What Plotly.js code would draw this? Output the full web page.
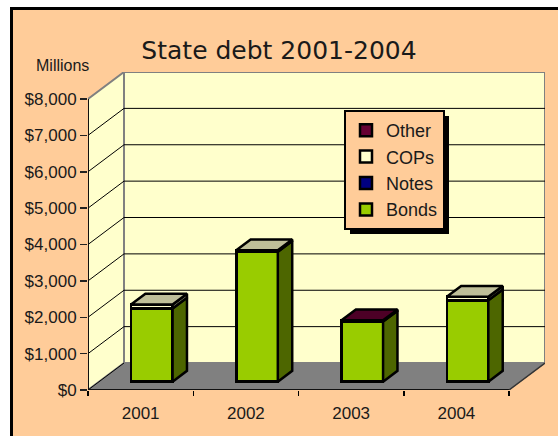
<!DOCTYPE html>
<html>
<head>
<meta charset="utf-8">
<script src="https://cdn.plot.ly/plotly-3.0.1.min.js"></script>
<style>html,body{margin:0;padding:0;background:#fff}#chart{width:558px;height:436px}</style>
</head>
<body>
<div id="chart"></div>
<script>
// ---- data ----
const years = ['2001', '2002', '2003', '2004'];
const bonds = [2010, 3570, 1650, 2235];
const notes = [0, 0, 0, 0];
const cops  = [110, 40, 0, 100];
const other = [0, 0, 35, 0];
const yTicks = [0, 1000, 2000, 3000, 4000, 5000, 6000, 7000, 8000];
const yTickText = yTicks.map(v => '$' + v.toLocaleString('en-US'));

// ---- geometry / style ----
const W = 558, H = 436;
const FL = 88, FR = 509, FB = 390, FT = 99;   // front plane in px
const DPX = 36, DPY = 27;                       // full depth offset in px
const yMax = yTicks[yTicks.length - 1];
const nCat = years.length;
const pxCat = (FR - FL) / nCat, pxVal = (FB - FT) / yMax;
const DXc = DPX / pxCat, DYv = DPY / pxVal;
const f0 = 0.31, bd = 0.40, bw = 0.395;
const FONT = '"Liberation Sans", Arial, sans-serif';

function shade(hex, k) {
  const n = parseInt(hex.slice(1), 16);
  const r = Math.round(((n >> 16) & 255) * k), g = Math.round(((n >> 8) & 255) * k), b = Math.round((n & 255) * k);
  return 'rgb(' + r + ',' + g + ',' + b + ')';
}

const series = [
  {name: 'Bonds', y: bonds, color: '#99CC00'},
  {name: 'Notes', y: notes, color: '#000080'},
  {name: 'COPs',  y: cops,  color: '#FFFFCC'},
  {name: 'Other', y: other, color: '#660033'}
];

const traces = [];
series.forEach(s => {
  traces.push({
    type: 'bar', name: s.name, x: years.map((_, i) => i), y: s.y,
    xaxis: 'x2', yaxis: 'y2', width: bw, legendgroup: s.name,
    marker: {color: s.color, line: {color: '#000', width: 2.5}},
    hoverinfo: 'skip'
  });
});

// side and top faces from the stacked values
const sdx = bd * DXc, sdy = bd * DYv;
const cum = years.map(() => 0);
const topInfo = years.map(() => null);
series.forEach(s => {
  const xs = [], ys = [];
  s.y.forEach((v, i) => {
    const b = cum[i], t = b + v;
    if (v > 0) {
      const xr = i + bw / 2;
      xs.push(xr, xr + sdx, xr + sdx, xr, xr, null);
      ys.push(b, b + sdy, t + sdy, t, b, null);
      topInfo[i] = {t: t, color: s.color};
    }
    cum[i] = t;
  });
  if (xs.length) {
    traces.push({type: 'scatter', mode: 'lines', x: xs, y: ys, xaxis: 'x2', yaxis: 'y2',
      fill: 'toself', fillcolor: shade(s.color, 0.5), line: {color: '#000', width: 2.5},
      showlegend: false, hoverinfo: 'skip'});
  }
});
topInfo.forEach((ti, i) => {
  if (!ti) return;
  const xl = i - bw / 2, xr = i + bw / 2, t = ti.t;
  traces.push({type: 'scatter', mode: 'lines',
    x: [xl, xr, xr + sdx, xl + sdx, xl], y: [t, t, t + sdy, t + sdy, t],
    xaxis: 'x2', yaxis: 'y2', fill: 'toself', fillcolor: shade(ti.color, 0.75),
    line: {color: '#000', width: 2.5}, showlegend: false, hoverinfo: 'skip'});
});

// ---- frame + 3D box shapes ----
const shapes = [];
shapes.push({type: 'rect', xref: 'paper', yref: 'paper', x0: 0, x1: 10 / W, y0: 0, y1: 1,
  fillcolor: '#fff', line: {width: 0}, layer: 'below'});
shapes.push({type: 'rect', xref: 'paper', yref: 'paper', x0: 0, x1: 1, y0: 1 - 7 / H, y1: 1,
  fillcolor: '#fff', line: {width: 0}, layer: 'below'});
shapes.push({type: 'line', xref: 'paper', yref: 'paper', x0: 11.5 / W, x1: 11.5 / W, y0: 0, y1: 1 - 7 / H,
  line: {color: '#000', width: 3}, layer: 'below'});
shapes.push({type: 'line', xref: 'paper', yref: 'paper', x0: 10 / W, x1: 1, y0: 1 - 8.5 / H, y1: 1 - 8.5 / H,
  line: {color: '#000', width: 3}, layer: 'below'});
const xA = -0.5, xB = nCat - 0.5;
shapes.push({type: 'rect', xref: 'x', yref: 'y', x0: xA + DXc, x1: xB + DXc, y0: DYv, y1: yMax + DYv,
  fillcolor: '#FFFFCC', line: {color: '#808080', width: 2}, layer: 'below'});
shapes.push({type: 'path', xref: 'x', yref: 'y',
  path: `M${xA},0 L${xA + DXc},${DYv} L${xA + DXc},${yMax + DYv} L${xA},${yMax} Z`,
  fillcolor: '#FFFFCC', line: {color: '#808080', width: 2}, layer: 'below'});
shapes.push({type: 'path', xref: 'x', yref: 'y',
  path: `M${xA},0 L${xB},0 L${xB + DXc},${DYv} L${xA + DXc},${DYv} Z`,
  fillcolor: '#808080', line: {color: '#808080', width: 1}, layer: 'below'});
function seg(x0, y0, x1, y1, color, width) {
  return {type: 'line', xref: 'x', yref: 'y', x0, y0, x1, y1, line: {color, width}, layer: 'below'};
}
yTicks.forEach(v => {
  if (v < yMax) {
    if (v > 0) shapes.push(seg(xA + DXc, v + DYv, xB + DXc, v + DYv, '#000', 1));
    shapes.push(seg(xA, v, xA + DXc, v + DYv, '#000', 1));
  }
});
shapes.push(seg(xA, 0, xA, yMax, '#111', 2));
shapes.push(seg(xA, 0, xB, 0, '#111', 2));
shapes.push(seg(xB, 0, xB + DXc, DYv, '#333', 1.5));
// legend shadow (resized to the legend box after drawing)
const shadowIndex = shapes.length;
shapes.push({type: 'rect', xref: 'paper', yref: 'paper', x0: 349 / W, x1: 449 / W, y0: 1 - 230 / H, y1: 1 - 119 / H,
  fillcolor: '#000', line: {width: 0}, layer: 'above'});

const tickFont = {family: FONT, size: 17, color: '#1a1a1a'};
const layout = {
  width: W, height: H, autosize: false,
  margin: {l: 0, r: 0, t: 0, b: 0, pad: 0},
  paper_bgcolor: '#FFCC99', plot_bgcolor: 'rgba(0,0,0,0)',
  barmode: 'stack', showlegend: true,
  title: {text: 'State debt 2001-2004', font: {family: '"DejaVu Sans", Verdana, sans-serif', size: 25, color: '#1a1a1a'},
    x: 0.5, xanchor: 'center', xref: 'paper', y: 1 - 50 / H, yanchor: 'middle', yref: 'container'},
  xaxis: {domain: [FL / W, (FR + DPX) / W], range: [xA, xB + DXc], fixedrange: true,
    tickmode: 'array', tickvals: years.map((_, i) => i), ticktext: years,
    ticks: 'outside', ticklen: 8, tickcolor: 'rgba(0,0,0,0)', tickfont: tickFont,
    minor: {tickmode: 'array', tickvals: years.map((_, i) => i - 0.5).concat([xB]), ticks: 'outside', ticklen: 5, tickwidth: 1.5, tickcolor: '#000', showgrid: false},
    showgrid: false, zeroline: false, showline: false},
  yaxis: {domain: [1 - FB / H, 1 - (FT - DPY) / H], range: [0, yMax + DYv], fixedrange: true,
    tickmode: 'array', tickvals: yTicks, ticktext: yTickText,
    ticks: 'outside', ticklen: 7, tickwidth: 1.5, tickcolor: '#222', tickfont: tickFont,
    showgrid: false, zeroline: false, showline: false},
  xaxis2: {overlaying: 'x', anchor: 'y2', domain: [FL / W, (FR + DPX) / W],
    range: [xA - f0 * DXc, xB + DXc - f0 * DXc], visible: false, fixedrange: true},
  yaxis2: {overlaying: 'y', anchor: 'x2', domain: [1 - FB / H, 1 - (FT - DPY) / H],
    range: [-f0 * DYv, yMax + DYv - f0 * DYv], visible: false, fixedrange: true},
  legend: {x: 344 / W, y: 1 - 110 / H, xanchor: 'left', yanchor: 'top', xref: 'paper', yref: 'paper',
    bgcolor: '#FFCC99', bordercolor: '#000', borderwidth: 2, traceorder: 'reversed',
    tracegroupgap: 4, font: {family: FONT, size: 18, color: '#1a1a1a'}},
  annotations: [{text: 'Millions', xref: 'paper', yref: 'paper', x: 34 / W, y: 1 - 66 / H,
    xanchor: 'left', yanchor: 'middle', showarrow: false, font: {family: FONT, size: 16, color: '#1a1a1a'}}],
  shapes: shapes
};
Plotly.newPlot('chart', traces, layout, {staticPlot: true, displayModeBar: false}).then(gd => {
  const bg = gd.querySelector('.legend .bg');
  if (!bg) return;
  const r = bg.getBoundingClientRect(), c = gd.getBoundingClientRect();
  const x0 = r.left - c.left + 5, x1 = r.right - c.left + 5;
  const y0 = r.top - c.top + 5, y1 = r.bottom - c.top + 5;
  const upd = {};
  upd['shapes[' + shadowIndex + '].x0'] = x0 / W;
  upd['shapes[' + shadowIndex + '].x1'] = x1 / W;
  upd['shapes[' + shadowIndex + '].y0'] = 1 - y1 / H;
  upd['shapes[' + shadowIndex + '].y1'] = 1 - y0 / H;
  return Plotly.relayout(gd, upd);
});
</script>
</body>
</html>
